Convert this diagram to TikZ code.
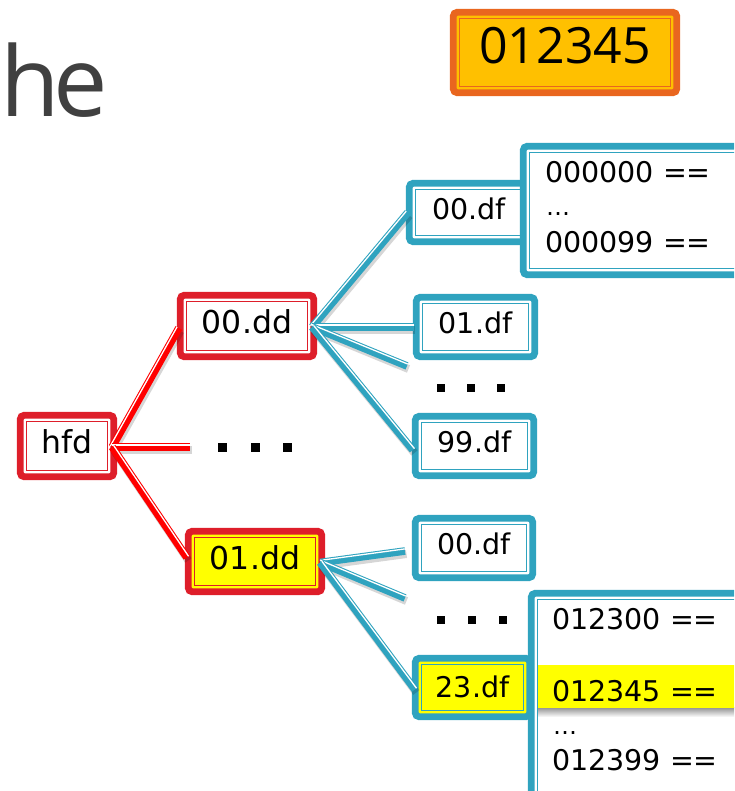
\documentclass[tikz,border=0pt]{standalone}
\usepackage{fontspec}
\setmainfont{DejaVu Sans}
\newfontfamily\opensans{Open Sans}
\usetikzlibrary{calc}
\definecolor{boxred}{RGB}{222,30,42}
\definecolor{linered}{RGB}{255,0,0}
\definecolor{cy}{RGB}{47,163,191}
\definecolor{org}{RGB}{233,102,31}
\definecolor{gold}{RGB}{255,192,0}
\definecolor{ttl}{RGB}{64,64,64}
\definecolor{hl}{RGB}{255,255,0}
\tikzset{
  dbox/.style={draw=#1, line width=6.8pt, rounded corners=4pt, inner sep=0pt, fill=white, text depth=8pt,
    path picture={\draw[#1, line width=1.4pt, sharp corners]
      ([shift={(6pt,-6pt)}]path picture bounding box.north west) rectangle
      ([shift={(-6pt,6pt)}]path picture bounding box.south east);}},
  redtxt/.style={font=\fontsize{31.5}{36}\selectfont},
  dftxt/.style={font=\fontsize{28.5}{33}\selectfont},
  rowtxt/.style={font=\fontsize{28.5}{32}\selectfont, anchor=west, inner sep=0pt},
  connline/.style={draw=#1, line width=7.6pt},
  stripe/.style={draw=white, line width=1.3pt},
  shad/.style={draw=black, opacity=0.16, line width=8pt, transform canvas={shift={(1.5pt,-3pt)}}},
  dot/.style={fill=black, minimum size=#1, inner sep=0pt, draw=none},
}
\newcommand\myconn[3]{%
  \draw[connline=#1] (#2) -- (#3);
  \draw[stripe] ($(#2)!2.1pt!90:(#3)$) -- ($(#3)!2.1pt!-90:(#2)$);}
\begin{document}
\begin{tikzpicture}[x=1pt,y=-1pt]
\useasboundingbox (0,0) rectangle (734,791);
\clip (0,0) rectangle (734,791);

% title fragment
\node[anchor=base west, inner sep=0pt, text=ttl, font=\opensans\fontsize{97}{100}\selectfont] (title) at (0,117) {h\kern-6pt e};

% top orange box
\node[dbox=org, fill=gold, minimum width=223.5pt, minimum height=80.5pt, text depth=14pt,
  font=\opensans\fontsize{50}{55}\selectfont] (key) at (565,52.5) {012345};

% red boxes
\node[dbox=boxred, redtxt, minimum width=93.5pt, minimum height=61.5pt] (hfd) at (67,446) {hfd};
\node[dbox=boxred, redtxt, minimum width=133.5pt, minimum height=61.5pt] (dd0) at (247,326) {00.dd};
\node[dbox=boxred, redtxt, fill=hl, minimum width=133.5pt, minimum height=60.5pt] (dd1) at (255,561.5) {01.dd};

% cyan df boxes
\node[dbox=cy, dftxt, minimum width=119.5pt, minimum height=58.5pt] (dfa) at (469,212.5) {00.df\hspace{4pt}};
\node[dbox=cy, dftxt, minimum width=118.5pt, minimum height=59.5pt] (df1) at (475.5,327) {01.df};
\node[dbox=cy, dftxt, minimum width=118.5pt, minimum height=59.5pt] (df99) at (474.5,446) {99.df};
\node[dbox=cy, dftxt, minimum width=117.5pt, minimum height=59.5pt] (dfc) at (474,548) {00.df};
\node[dbox=cy, dftxt, fill=hl, text depth=1pt, minimum width=114.5pt, minimum height=58.5pt] (df23) at (472.5,687.5) {23.df\hspace{4pt}};

% big boxes
\node[dbox=cy, minimum width=239.5pt, minimum height=128.5pt] (bigA) at (643,210.5) {};
\node[rowtxt] (a1) at (545,172) {000000 ==};
\node[rowtxt, font=\fontsize{24}{28}\selectfont] (a2) at (546,214) {…};
\node[rowtxt] (a3) at (545,242.5) {000099 ==};

\node[dbox=cy, minimum width=231.5pt, minimum height=233.5pt] (bigB) at (647,710) {};
\shade[top color=black!45, bottom color=white] (538,707) rectangle (740,717);
\fill[hl] (538,665) rectangle (740,708);
\node[rowtxt] (b1) at (552,619) {012300 ==};
\node[rowtxt] (b2) at (552,691) {012345 ==};
\node[rowtxt, font=\fontsize{24}{28}\selectfont] (b3) at (553,733) {…};
\node[rowtxt] (b4) at (552,760) {012399 ==};

% dots
\node[dot=9pt] (m1) at (222,447) {};
\node[dot=9pt] (m2) at (255,447) {};
\node[dot=9pt] (m3) at (287.5,447) {};
\node[dot=8pt] (u1) at (441,388) {};
\node[dot=8pt] (u2) at (471,388) {};
\node[dot=8pt] (u3) at (501,388) {};
\node[dot=8pt] (l1) at (441,620) {};
\node[dot=8pt] (l2) at (472,620) {};
\node[dot=8pt] (l3) at (503,620) {};

% connector anchors
\coordinate (hs) at ($(hfd.east)+(-5,1)$);
\coordinate (ds0) at ($(dd0.east)+(-5,1)$);
\coordinate (ds1) at ($(dd1.east)+(-5,1)$);
\coordinate (e0) at ($(dd0.west)+(2,2)$);
\coordinate (hmid) at (190,447);
\coordinate (e1) at ($(dd1.west)+(2,-4)$);
\coordinate (ea) at ($(dfa.west)+(2,0)$);
\coordinate (eb) at ($(df1.west)+(1,0)$);
\coordinate (s0) at (407,366);
\coordinate (ec) at ($(df99.west)+(1,4)$);
\coordinate (dfcend) at (405,551);
\coordinate (s1) at (405,598);
\coordinate (ed) at ($(df23.west)+(3,2)$);

% shadows
\foreach \a/\b in {hs/e0, hs/hmid, hs/e1, ds0/ea, ds0/eb, ds0/s0, ds0/ec, ds1/dfcend, ds1/s1, ds1/ed}
  \draw[shad] (\a) -- (\b);

% connectors
\myconn{linered}{hs}{e0}
\myconn{linered}{hs}{hmid}
\myconn{linered}{hs}{e1}
\myconn{cy}{ds0}{ea}
\myconn{cy}{ds0}{eb}
\myconn{cy}{ds0}{s0}
\myconn{cy}{ds0}{ec}
\myconn{cy}{ds1}{dfcend}
\myconn{cy}{ds1}{s1}
\myconn{cy}{ds1}{ed}
\end{tikzpicture}
\end{document}
